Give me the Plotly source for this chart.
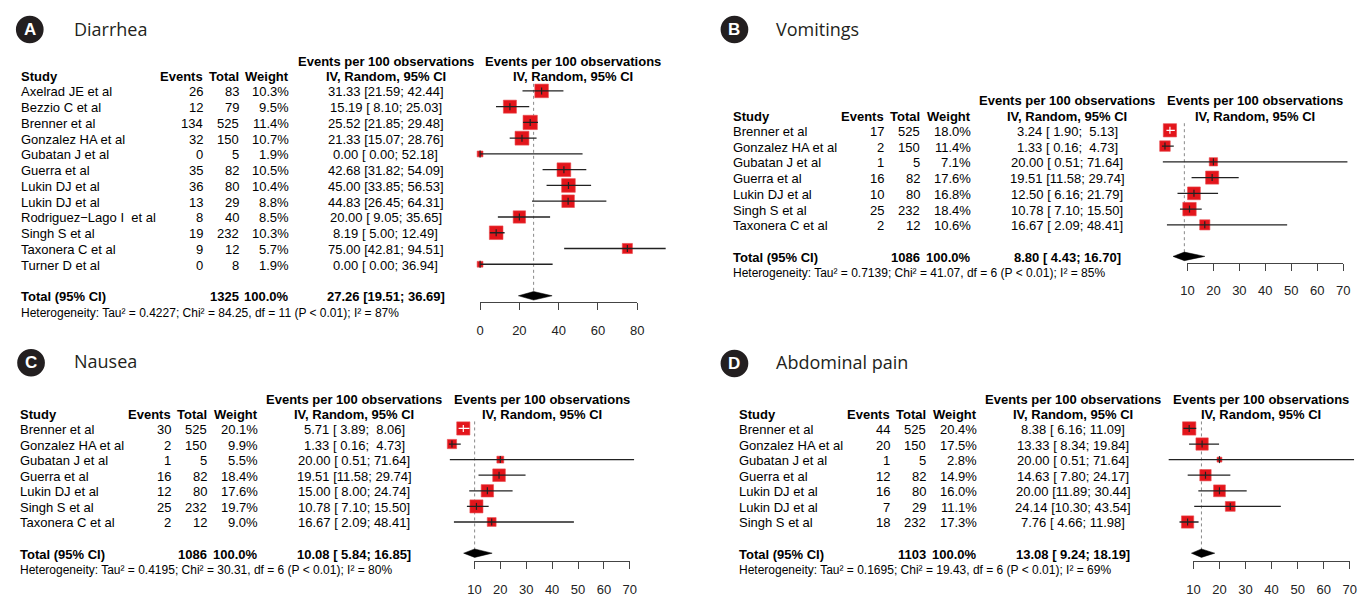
import plotly.graph_objects as go

W, H = 1363, 597
FONT = "Liberation Sans, Arial, sans-serif"
TITLE_FONT = "Open Sans, Noto Sans, sans-serif"

# ---------------- Data ----------------
# Panel A - Diarrhea
studies_A = ["Axelrad JE et al", "Bezzio C et al", "Brenner et al", "Gonzalez HA et al",
             "Gubatan J et al", "Guerra et al", "Lukin DJ et al", "Lukin DJ et al",
             "Rodriguez\u2212Lago I  et al", "Singh S et al", "Taxonera C et al", "Turner D et al"]
events_A = [26, 12, 134, 32, 0, 35, 36, 13, 8, 19, 9, 0]
totals_A = [83, 79, 525, 150, 5, 82, 80, 29, 40, 232, 12, 8]
weights_A = [10.3, 9.5, 11.4, 10.7, 1.9, 10.5, 10.4, 8.8, 8.5, 10.3, 5.7, 1.9]
est_A = [31.33, 15.19, 25.52, 21.33, 0.00, 42.68, 45.00, 44.83, 20.00, 8.19, 75.00, 0.00]
lower_A = [21.59, 8.10, 21.85, 15.07, 0.00, 31.82, 33.85, 26.45, 9.05, 5.00, 42.81, 0.00]
upper_A = [42.44, 25.03, 29.48, 28.76, 52.18, 54.09, 56.53, 64.31, 35.65, 12.49, 94.51, 36.94]
pooled_A = [27.26, 19.51, 36.69]
n_total_A = 1325
het_A = ["0.4227", "84.25", "11", "87"]
ticks_A = [0, 20, 40, 60, 80]

# Panel B - Vomitings
studies_B = ["Brenner et al", "Gonzalez HA et al", "Gubatan J et al", "Guerra et al",
             "Lukin DJ et al", "Singh S et al", "Taxonera C et al"]
events_B = [17, 2, 1, 16, 10, 25, 2]
totals_B = [525, 150, 5, 82, 80, 232, 12]
weights_B = [18.0, 11.4, 7.1, 17.6, 16.8, 18.4, 10.6]
est_B = [3.24, 1.33, 20.00, 19.51, 12.50, 10.78, 16.67]
lower_B = [1.90, 0.16, 0.51, 11.58, 6.16, 7.10, 2.09]
upper_B = [5.13, 4.73, 71.64, 29.74, 21.79, 15.50, 48.41]
pooled_B = [8.80, 4.43, 16.70]
n_total_B = 1086
het_B = ["0.7139", "41.07", "6", "85"]
ticks_B = [10, 20, 30, 40, 50, 60, 70]

# Panel C - Nausea
studies_C = ["Brenner et al", "Gonzalez HA et al", "Gubatan J et al", "Guerra et al",
             "Lukin DJ et al", "Singh S et al", "Taxonera C et al"]
events_C = [30, 2, 1, 16, 12, 25, 2]
totals_C = [525, 150, 5, 82, 80, 232, 12]
weights_C = [20.1, 9.9, 5.5, 18.4, 17.6, 19.7, 9.0]
est_C = [5.71, 1.33, 20.00, 19.51, 15.00, 10.78, 16.67]
lower_C = [3.89, 0.16, 0.51, 11.58, 8.00, 7.10, 2.09]
upper_C = [8.06, 4.73, 71.64, 29.74, 24.74, 15.50, 48.41]
pooled_C = [10.08, 5.84, 16.85]
n_total_C = 1086
het_C = ["0.4195", "30.31", "6", "80"]
ticks_C = [10, 20, 30, 40, 50, 60, 70]

# Panel D - Abdominal pain
studies_D = ["Brenner et al", "Gonzalez HA et al", "Gubatan J et al", "Guerra et al",
             "Lukin DJ et al", "Lukin DJ et al", "Singh S et al"]
events_D = [44, 20, 1, 12, 16, 7, 18]
totals_D = [525, 150, 5, 82, 80, 29, 232]
weights_D = [20.4, 17.5, 2.8, 14.9, 16.0, 11.1, 17.3]
est_D = [8.38, 13.33, 20.00, 14.63, 20.00, 24.14, 7.76]
lower_D = [6.16, 8.34, 0.51, 7.80, 11.89, 10.30, 4.66]
upper_D = [11.09, 19.84, 71.64, 24.17, 30.44, 43.54, 11.98]
pooled_D = [13.08, 9.24, 18.19]
n_total_D = 1103
het_D = ["0.1695", "19.43", "6", "69"]
ticks_D = [10, 20, 30, 40, 50, 60, 70]

panels = [
    dict(letter="A", title="Diarrhea", studies=studies_A, events=events_A, totals=totals_A,
         weights=weights_A, est=est_A, lower=lower_A, upper=upper_A, pooled=pooled_A,
         ntot=n_total_A, het=het_A, ticks=ticks_A),
    dict(letter="B", title="Vomitings", studies=studies_B, events=events_B, totals=totals_B,
         weights=weights_B, est=est_B, lower=lower_B, upper=upper_B, pooled=pooled_B,
         ntot=n_total_B, het=het_B, ticks=ticks_B),
    dict(letter="C", title="Nausea", studies=studies_C, events=events_C, totals=totals_C,
         weights=weights_C, est=est_C, lower=lower_C, upper=upper_C, pooled=pooled_C,
         ntot=n_total_C, het=het_C, ticks=ticks_C),
    dict(letter="D", title="Abdominal pain", studies=studies_D, events=events_D, totals=totals_D,
         weights=weights_D, est=est_D, lower=lower_D, upper=upper_D, pooled=pooled_D,
         ntot=n_total_D, het=het_D, ticks=ticks_D),
]

# ---------------- Layout geometry (pixels) ----------------
geometry = [
    dict(circ=(23, 30), title_x=66, title_y=29, study=12.7, ev=199.3, tot=235.7, wt=286.0,
         ci=382.8, hdr2=572.0, px0=478.0, k=1.984, xr=[-4, 100], row0=92.3, rowh=16.0,
         axis_y=306.7, sqmax=14.3),
    dict(circ=(735, 30), title_x=775, title_y=29, study=732.2, ev=887.2, tot=923.8, wt=974.8,
         ci=1071.5, hdr2=1260.8, px0=1166.5, k=2.622, xr=[-4, 72], row0=132.3, rowh=16.0,
         axis_y=266.7, sqmax=13.4),
    dict(circ=(24.3, 368.3), title_x=66, title_y=367, study=11.7, ev=166.7, tot=203.3, wt=254.3,
         ci=351.0, hdr2=540.3, px0=446.1, k=2.617, xr=[-4, 72], row0=435.0, rowh=15.83,
         axis_y=570.0, sqmax=13.2),
    dict(circ=(735, 369), title_x=775, title_y=368, study=738.1, ev=893.1, tot=929.7, wt=980.7,
         ci=1077.4, hdr2=1266.7, px0=1172.4, k=2.633, xr=[-4, 72], row0=435.0, rowh=15.83,
         axis_y=569.5, sqmax=13.3),
]

NB = "\u00a0"


def fmt_ci(e, lo, hi):
    return f"{e:.2f} [{lo:5.2f}; {hi:5.2f}]".replace(" ", NB)


fig = go.Figure()
annotations = []
shapes = []
layout_axes = {}


def ann(text, xpx, y, yref, anchor, bold=False, size=13, color="black", family=FONT):
    if bold:
        text = f"<b>{text}</b>"
    return dict(text=text, x=xpx / W, xref="paper", y=y, yref=yref, xanchor=anchor,
                yanchor="middle", showarrow=False, borderpad=0, yshift=-1,
                font=dict(family=family, size=size, color=color))


for i, (P, G) in enumerate(zip(panels, geometry)):
    xa, ya, ta = f"x{i+1}", f"y{i+1}", f"x{i+5}"
    n = len(P["studies"])
    T = n + 1
    k, px0 = G["k"], G["px0"]
    xr = [G["xr"][0], min(G["xr"][1], (W - px0) / k)]
    ry = [-2.5, n + 3]

    layout_axes[f"xaxis{i+1}"] = dict(domain=[(px0 + k * xr[0]) / W, min(1, (px0 + k * xr[1]) / W)],
                                      range=xr, visible=False, anchor=ya, fixedrange=True)
    layout_axes[f"yaxis{i+1}"] = dict(domain=[1 - (G["row0"] + ry[1] * G["rowh"]) / H,
                                              1 - (G["row0"] + ry[0] * G["rowh"]) / H],
                                      range=[ry[1], ry[0]], visible=False, anchor=xa,
                                      fixedrange=True)
    tk = P["ticks"]
    layout_axes[f"xaxis{i+5}"] = dict(
        domain=[(px0 + k * tk[0]) / W, (px0 + k * tk[-1]) / W], range=[tk[0], tk[-1]],
        anchor="free", position=1 - G["axis_y"] / H, tickvals=tk, ticktext=[str(t) for t in tk],
        showline=True, linecolor="#444", linewidth=1, ticks="outside", ticklen=7, tickwidth=1,
        tickcolor="#444", showgrid=False, zeroline=False, ticklabelstandoff=9,
        tickfont=dict(family=FONT, size=13, color="#222"), fixedrange=True)

    rows = list(range(n))
    wmax = max(P["weights"])
    sizes = [G["sqmax"] * (w / wmax) ** 0.5 for w in P["weights"]]

    # invisible trace to activate tick axis
    fig.add_trace(go.Scatter(x=[tk[0], tk[-1]], y=[T, T], mode="markers", opacity=0,
                             xaxis=ta, yaxis=ya, hoverinfo="skip", showlegend=False))

    # dotted reference line at pooled estimate
    fig.add_trace(go.Scatter(x=[P["pooled"][0], P["pooled"][0]], y=[-0.45, T], mode="lines",
                             line=dict(color="#888", width=1, dash="dot"),
                             xaxis=xa, yaxis=ya, hoverinfo="skip", showlegend=False))

    # squares
    fig.add_trace(go.Scatter(x=P["est"], y=rows, mode="markers",
                             marker=dict(symbol="square", size=sizes, color="#E3151B",
                                         opacity=1,
                                         line=dict(color="#EA4A4E", width=0.6)),
                             xaxis=xa, yaxis=ya, hoverinfo="skip", showlegend=False,
                             cliponaxis=False))

    # CI lines (white when fully inside the square)
    inside = []
    for e, lo, hi, s in zip(P["est"], P["lower"], P["upper"], sizes):
        half = s / 2 / k
        inside.append(lo > e - half and hi < e + half)
    for flag, col in ((False, "#222"), (True, "white")):
        xs, ys, tx, ty = [], [], [], []
        for r, e, lo, hi, f in zip(rows, P["est"], P["lower"], P["upper"], inside):
            if f != flag:
                continue
            xs += [lo, hi, None]
            ys += [r, r, None]
            tx.append(e)
            ty.append(r)
        if xs:
            fig.add_trace(go.Scatter(x=xs, y=ys, mode="lines", line=dict(color=col, width=1.3),
                                     xaxis=xa, yaxis=ya, hoverinfo="skip", showlegend=False))
            fig.add_trace(go.Scatter(x=tx, y=ty, mode="markers",
                                     marker=dict(symbol="line-ns", size=5, opacity=1,
                                                 line=dict(color=col, width=1.2)),
                                     xaxis=xa, yaxis=ya, hoverinfo="skip", showlegend=False,
                                     cliponaxis=False))

    # pooled diamond
    pe, pl, pu = P["pooled"]
    fig.add_trace(go.Scatter(x=[pl, pe, pu, pe, pl], y=[T, T - 0.27, T, T + 0.27, T],
                             mode="lines", fill="toself", fillcolor="black",
                             line=dict(color="black", width=0.5),
                             xaxis=xa, yaxis=ya, hoverinfo="skip", showlegend=False))

    # ---- text columns ----
    yr = ya
    h1, h2 = -1.95, -0.95
    annotations.append(ann("Study", G["study"], h2, yr, "left", bold=True))
    annotations.append(ann("Events", G["ev"], h2, yr, "right", bold=True))
    annotations.append(ann("Total", G["tot"], h2, yr, "right", bold=True))
    annotations.append(ann("Weight", G["wt"], h2, yr, "right", bold=True))
    annotations.append(ann("Events per 100 observations", G["ci"], h1, yr, "center", bold=True))
    annotations.append(ann("IV, Random, 95% CI", G["ci"], h2, yr, "center", bold=True))
    annotations.append(ann("Events per 100 observations", G["hdr2"], h1, yr, "center", bold=True))
    annotations.append(ann("IV, Random, 95% CI", G["hdr2"], h2, yr, "center", bold=True))

    for r in rows:
        annotations.append(ann(P["studies"][r].replace("  ", NB + NB), G["study"], r, yr, "left"))
        annotations.append(ann(str(P["events"][r]), G["ev"], r, yr, "right"))
        annotations.append(ann(str(P["totals"][r]), G["tot"], r, yr, "right"))
        annotations.append(ann(f"{P['weights'][r]:.1f}%", G["wt"], r, yr, "right"))
        annotations.append(ann(fmt_ci(P["est"][r], P["lower"][r], P["upper"][r]),
                               G["ci"], r, yr, "center"))

    annotations.append(ann("Total (95% CI)", G["study"], T, yr, "left", bold=True))
    annotations.append(ann(str(P["ntot"]), G["tot"], T, yr, "right", bold=True))
    annotations.append(ann("100.0%", G["wt"], T, yr, "right", bold=True))
    annotations.append(ann(fmt_ci(pe, pl, pu), G["ci"], T, yr, "center", bold=True))

    tau, chi, df, i2 = P["het"]
    het = (f"Heterogeneity: Tau\u00b2 = {tau}; Chi\u00b2 = {chi}, df = {df} "
           f"(P &lt; 0.01); I\u00b2 = {i2}%")
    annotations.append(ann(het, G["study"], T + 1, yr, "left", size=12))

    # ---- panel title ----
    cx, cy = G["circ"]
    rad = 14
    shapes.append(dict(type="circle", xref="paper", yref="paper",
                       x0=(cx - rad) / W, x1=(cx + rad) / W,
                       y0=1 - (cy + rad) / H, y1=1 - (cy - rad) / H,
                       fillcolor="#231f20", line=dict(width=0)))
    annotations.append(dict(text=f"<b>{P['letter']}</b>", x=cx / W, y=1 - cy / H,
                            xref="paper", yref="paper", xanchor="center", yanchor="middle",
                            showarrow=False, font=dict(family=FONT, size=17, color="white")))
    annotations.append(dict(text=P["title"], x=G["title_x"] / W, y=1 - G["title_y"] / H,
                            xref="paper", yref="paper", xanchor="left", yanchor="middle",
                            showarrow=False,
                            font=dict(family=TITLE_FONT, size=18, color="#231f20")))

fig.update_layout(
    autosize=True, margin=dict(l=0, r=0, t=0, b=0),
    paper_bgcolor="white", plot_bgcolor="rgba(0,0,0,0)",
    showlegend=False, annotations=annotations, shapes=shapes,
    **layout_axes,
)

fig.write_html(
    "out.html",
    config={"displayModeBar": False},
    default_width=f"{W}px",
    default_height=f"{H}px; position:fixed; top:0; left:0; margin:0",
    post_script="document.body.style.margin='0';",
)
